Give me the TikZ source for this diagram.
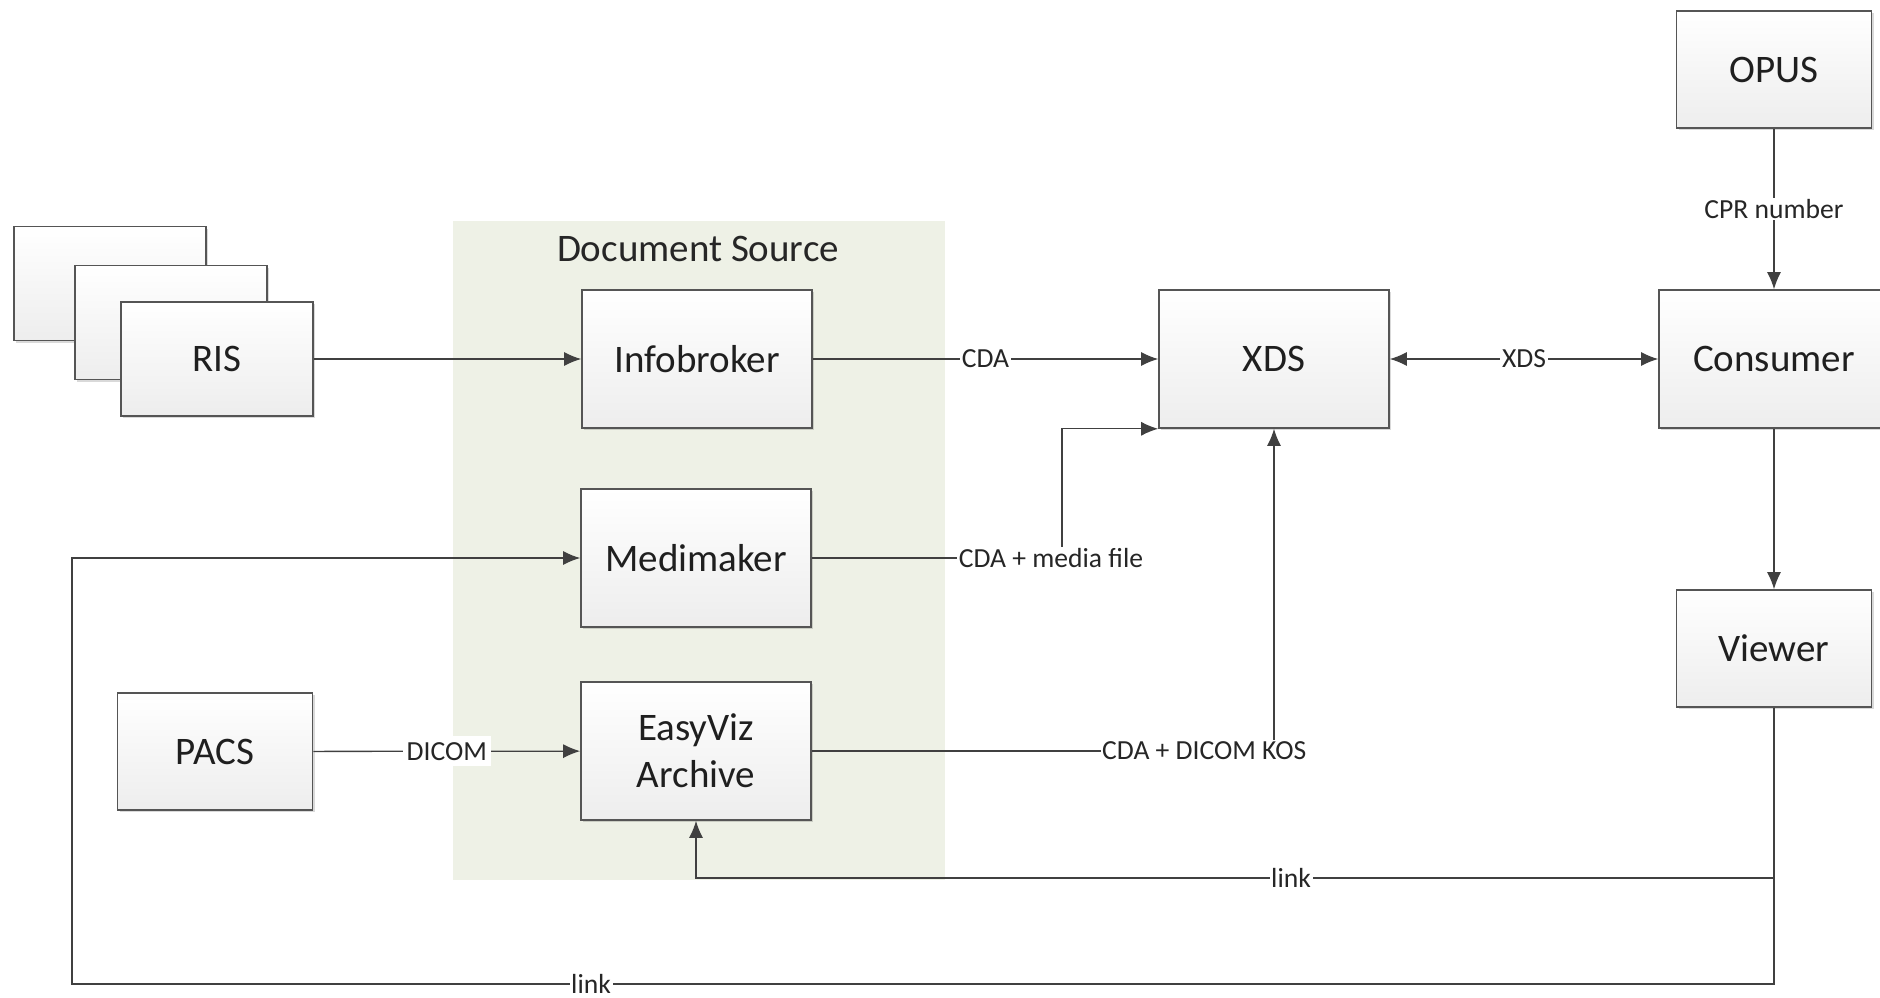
\documentclass[tikz,border=0pt]{standalone}
\usepackage{fontspec}
\setmainfont{Carlito}
\usetikzlibrary{arrows.meta}
\usetikzlibrary{shadows}
\tikzset{>={Latex[length=8.5pt,width=7pt]}}
\definecolor{boxline}{RGB}{85,85,85}
\definecolor{wirecol}{RGB}{64,64,64}
\definecolor{srcbg}{RGB}{238,241,230}
\tikzset{
  sysbox/.style={draw=boxline, line width=0.8pt, top color=white, bottom color=black!7,
    drop shadow={shadow xshift=1.2pt, shadow yshift=-1.2pt, fill=black, opacity=0.15},
    font=\fontsize{19.5}{23.5}\selectfont, text=black!88, align=center, inner sep=0pt},
  bigbox/.style={sysbox, minimum width=115pt, minimum height=69pt},
  smallbox/.style={sysbox, minimum width=97.5pt, minimum height=58.5pt},
  stackbox/.style={sysbox, minimum width=96pt, minimum height=57pt},
  wire/.style={draw=wirecol, line width=0.65pt},
  lbl/.style={fill=white, inner sep=0.8pt, font=\fontsize{13.8}{15}\selectfont, text=black!85}
}

\begin{document}
\begin{tikzpicture}[x=0.5pt,y=-0.5pt]
            \useasboundingbox (0,0) rectangle (1880,997);
            \clip (0,0) rectangle (1880,997);

            \fill[srcbg] (453,221) rectangle (945,880);
            \node[font=\fontsize{19.5}{21}\selectfont, text=black!85] (srctitle) at (698,249) {Document Source};

            \node[stackbox] (ris3) at (110,283.5) {};
            \node[stackbox] (ris2) at (171,322.5) {};
            \node[stackbox] (ris) at (217,359) {RIS};
            \node[smallbox] (pacs) at (215,751.5) {PACS};

            \node[bigbox] (info) at (697,359) {Infobroker};
            \node[bigbox] (medi) at (696,558) {Medimaker};
            \node[bigbox] (easy) at (696,751) {EasyViz\\Archive};

            \node[bigbox] (xds) at (1274,359) {XDS};
            \node[bigbox] (cons) at (1774,359) {Consumer};
            \node[smallbox] (opus) at (1774,69.5) {OPUS};
            \node[smallbox] (view) at (1774,648.5) {Viewer};

            \coordinate (mfbend) at (1062,558);
            \coordinate (lnk1) at (1774,878);
            \coordinate (lnk2) at (1774,984);
            \coordinate (lnk3) at (72,984);

            \draw[wire,->] (ris) -- (info);
            \draw[wire,->] (info) -- node[lbl]{CDA} (xds);
            \draw[wire,<->] (xds) -- node[lbl]{XDS} (cons);
            \draw[wire,->] (opus) -- node[lbl]{CPR number} (cons);
            \draw[wire,->] (cons) -- (view);
            \draw[wire,->] (pacs) -- node[lbl,inner xsep=2pt,inner ysep=3pt]{DICOM} (easy);
            \draw[wire,->] (medi.east) -- node[lbl,pos=0.956]{CDA + media file} (mfbend) |- (xds.south west);
            \draw[wire,->] (easy.east) -- node[lbl,pos=0.849]{CDA + DICOM KOS} (easy.east -| xds.south) -- (xds.south);
            \draw[wire,->] (view.south) -- (lnk1) -- node[lbl,pos=0.448]{link} (lnk1 -| easy.south) -- (easy.south);
            \draw[wire,->] (view.south) -- (lnk2) -- node[lbl,pos=0.695,inner ysep=0pt]{link} (lnk3) |- (medi.west);

        \end{tikzpicture}
\end{document}
